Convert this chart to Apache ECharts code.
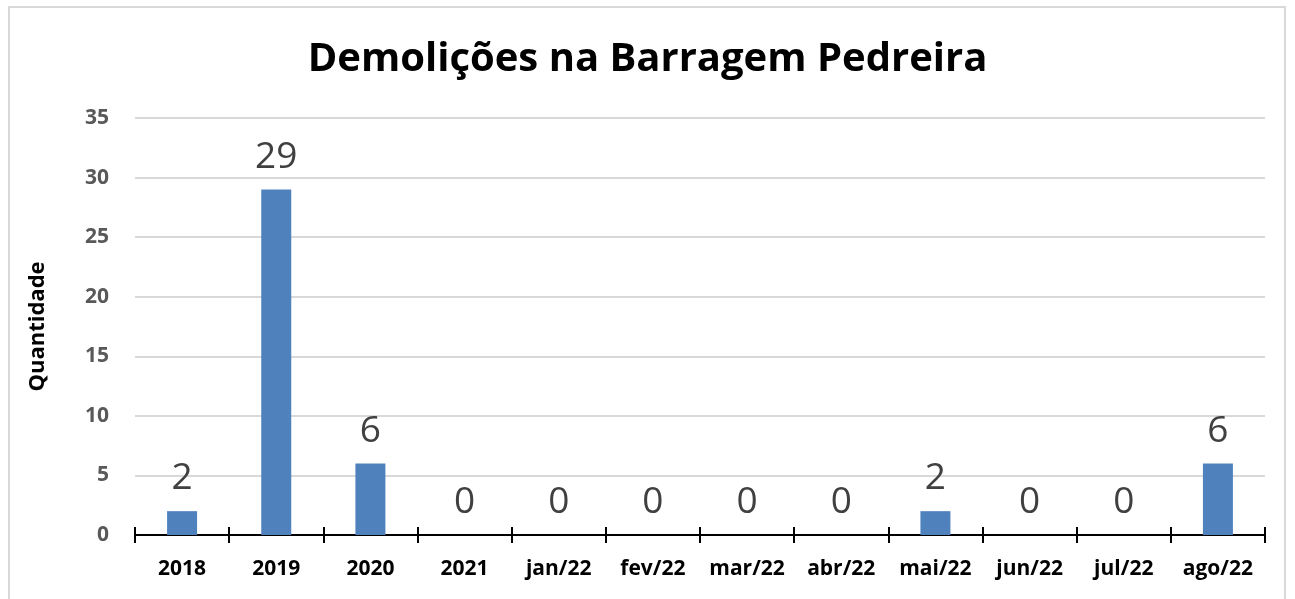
<!DOCTYPE html>
<html>
<head>
<meta charset="utf-8">
<script src="https://cdn.jsdelivr.net/npm/echarts@6/dist/echarts.min.js"></script>
<style>
  html, body { margin: 0; padding: 0; background: #fff; }
  #frame {
    position: absolute; left: 8px; top: 6px; width: 1278px; height: 600px;
    border: 2px solid #d9d9d9; box-sizing: border-box;
  }
  #chart { position: absolute; left: 0; top: 0; width: 1295px; height: 599px; }
</style>
</head>
<body>
<div id="frame"></div>
<div id="chart"></div>
<script>
// periods on the x axis
const categories = ['2018', '2019', '2020', '2021', 'jan/22', 'fev/22', 'mar/22', 'abr/22', 'mai/22', 'jun/22', 'jul/22', 'ago/22'];
// number of demolitions per period
const demolicoes = [2, 29, 6, 0, 0, 0, 0, 0, 2, 0, 0, 6];

const fontFamily = '"Open Sans", "Noto Sans", sans-serif';

const chart = echarts.init(document.getElementById('chart'));

const option = {
    animation: false,
    title: {
        text: 'Demolições na Barragem Pedreira',
        left: 'center',
        top: 35,
        textStyle: { fontFamily, fontSize: 40, fontWeight: 'bold', color: '#000' }
    },
    grid: { left: 135, right: 30, top: 118, bottom: 64 },
    xAxis: [
        {
            type: 'category',
            data: categories,
            axisLine: { lineStyle: { color: '#000', width: 2 } },
            axisTick: { show: true, length: 8, lineStyle: { color: '#000', width: 2 } },
            axisLabel: { interval: 0, fontFamily, fontSize: 21, fontWeight: 'bold', color: '#000', margin: 24 }
        },
        {
            // second copy only to draw the tick marks above the axis line
            type: 'category',
            data: categories,
            position: 'bottom',
            axisLine: { show: false },
            axisTick: { show: true, inside: true, length: 8, lineStyle: { color: '#000', width: 2 } },
            axisLabel: { show: false }
        }
    ],
    yAxis: {
        type: 'value',
        min: 0,
        max: 35,
        interval: 5,
        name: 'Quantidade',
        nameLocation: 'middle',
        nameGap: 86,
        nameTextStyle: { fontFamily, fontSize: 22, fontWeight: 'bold', color: '#000' },
        axisLine: { show: false },
        axisTick: { show: false },
        axisLabel: { fontFamily, fontSize: 21, fontWeight: 'bold', color: '#595959', margin: 26 },
        splitLine: { lineStyle: { color: '#d9d9d9', width: 2 } }
    },
    series: [
        {
            type: 'bar',
            data: demolicoes,
            barWidth: 30,
            itemStyle: { color: '#4f81bd' },
            label: {
                show: true,
                position: 'top',
                distance: 14,
                fontFamily,
                fontSize: 37,
                color: '#404040'
            }
        }
    ]
};

chart.setOption(option);
</script>
</body>
</html>
